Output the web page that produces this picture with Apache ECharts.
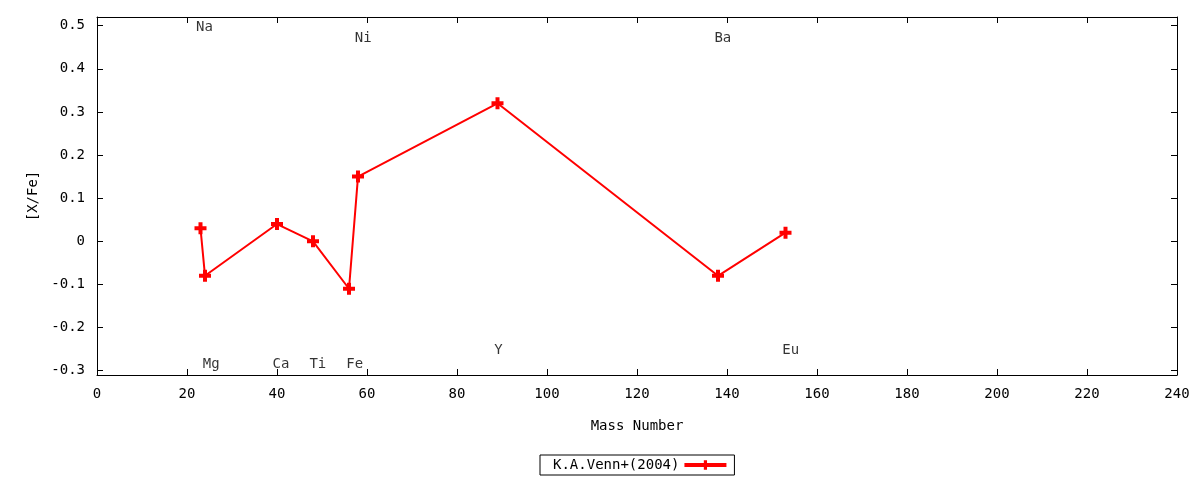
<!DOCTYPE html>
<html>
<head>
<meta charset="utf-8">
<script src="https://cdn.jsdelivr.net/npm/echarts@6/dist/echarts.min.js"></script>
<style>html,body{margin:0;padding:0;background:#fff}#c{width:1200px;height:480px}</style>
</head>
<body>
<div id="c"></div>
<script>
// Data
const elements = ['Na', 'Mg', 'Ca', 'Ti', 'Fe', 'Ni', 'Y', 'Ba', 'Eu'];
const massNumbers = [23, 24, 40, 48, 56, 58, 89, 138, 153];
const xFe = [0.03, -0.08, 0.04, 0.00, -0.11, 0.15, 0.32, -0.08, 0.02];
// element label anchor positions (x = mass, y = [X/Fe] level of text)
const labelX = [22, 23.5, 39, 47.2, 55.4, 57.3, 88.3, 137.2, 152.3];
const labelY = [0.495, -0.285, -0.285, -0.285, -0.285, 0.47, -0.252, 0.47, -0.252];
const yTicks = [-0.3, -0.2, -0.1, 0, 0.1, 0.2, 0.3, 0.4, 0.5];
const seriesName = 'K.A.Venn+(2004)';

const FONT = 'DejaVu Sans Mono';
const FS = 14;
const plus = 'path://M4,0H8V4H12V8H8V12H4V8H0V4H4Z';

const chart = echarts.init(document.getElementById('c'));
const lineData = massNumbers.map((m, i) => [m, xFe[i]]);
const labelData = elements.map((e, i) => ({ value: [labelX[i], labelY[i]], name: e }));

const fmt = v => String(Number(v.toFixed(2)));

chart.setOption({
  animation: false,
  textStyle: { fontFamily: FONT, fontSize: FS, color: '#000' },
  grid: { left: 97, right: 23, top: 17, bottom: 105 },
  xAxis: [{
    type: 'value', min: 0, max: 240, interval: 20,
    name: 'Mass Number', nameLocation: 'middle', nameGap: 44,
    nameTextStyle: { fontFamily: FONT, fontSize: FS, color: '#000' },
    axisLine: { show: true, onZero: false, lineStyle: { color: '#000', width: 1 } },
    axisTick: { show: true, inside: true, length: 6, lineStyle: { color: '#000' } },
    axisLabel: { color: '#000', fontFamily: FONT, fontSize: FS, margin: 12 },
    splitLine: { show: false }
  }, {
    type: 'value', min: 0, max: 240, interval: 20, position: 'top',
    axisLine: { show: true, onZero: false, lineStyle: { color: '#000', width: 1 } },
    axisTick: { show: true, inside: true, length: 6, lineStyle: { color: '#000' } },
    axisLabel: { show: false }, splitLine: { show: false }
  }],
  yAxis: [{
    type: 'value', min: -0.31, max: 0.52,
    name: '[X/Fe]', nameLocation: 'middle', nameGap: 57, nameRotate: 90,
    nameTextStyle: { fontFamily: FONT, fontSize: FS, color: '#000' },
    axisLine: { show: true, onZero: false, lineStyle: { color: '#000', width: 1 } },
    axisTick: { show: true, inside: true, length: 6, customValues: yTicks, lineStyle: { color: '#000' } },
    axisLabel: { color: '#000', fontFamily: FONT, fontSize: FS, margin: 12, customValues: yTicks, formatter: fmt },
    splitLine: { show: false }
  }, {
    type: 'value', min: -0.31, max: 0.52, position: 'right',
    axisLine: { show: true, onZero: false, lineStyle: { color: '#000', width: 1 } },
    axisTick: { show: true, inside: true, length: 6, customValues: yTicks, lineStyle: { color: '#000' } },
    axisLabel: { show: false }, splitLine: { show: false }
  }],
  legend: {
    data: [seriesName],
    left: 540, top: 455,
    align: 'right',
    orient: 'horizontal',
    borderColor: '#000', borderWidth: 1, borderRadius: 0,
    padding: [3, 6, 3, 13],
    itemWidth: 42, itemHeight: 12, itemGap: 5,
    textStyle: { fontFamily: FONT, fontSize: FS, color: '#000', padding: [0, 0, 0, 0] },
    lineStyle: { width: 4 },
    selectedMode: false
  },
  series: [{
    name: seriesName,
    type: 'line',
    data: lineData,
    symbol: plus,
    symbolSize: 12,
    showSymbol: true,
    lineStyle: { color: '#ff0000', width: 2 },
    itemStyle: { color: '#ff0000' },
    z: 3
  }, {
    name: 'labels',
    type: 'scatter',
    data: labelData,
    symbolSize: 0,
    silent: true,
    label: {
      show: true, position: 'right', distance: 0,
      formatter: p => p.name,
      fontFamily: FONT, fontSize: FS, color: '#000', textBorderWidth: 0
    }
  }]
});
</script>
</body>
</html>
